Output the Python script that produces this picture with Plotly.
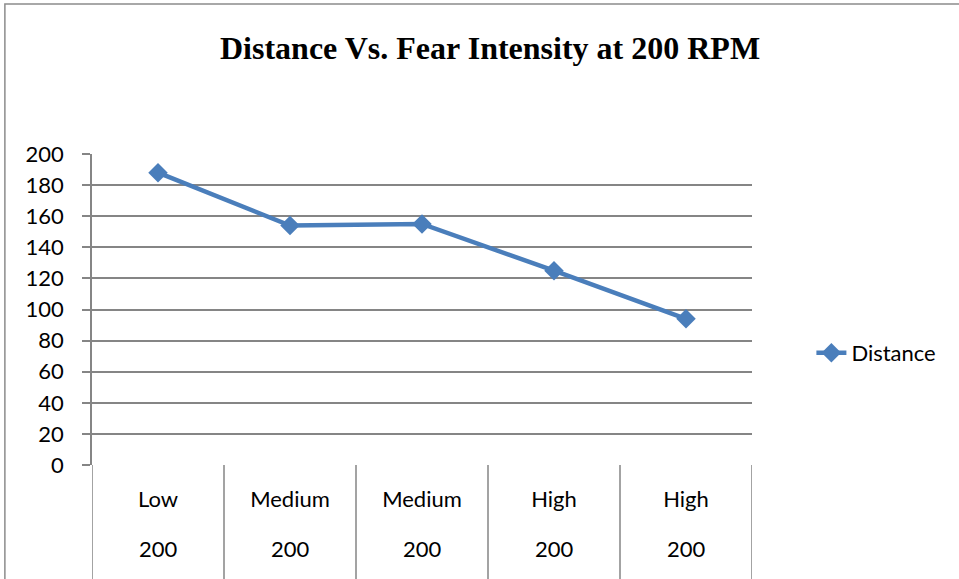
import plotly.graph_objects as go

# ---------------- data ----------------
fear_levels = ["Low", "Medium", "Medium", "High", "High"]
rpm_labels = ["200", "200", "200", "200", "200"]
distance = [188, 154, 155, 125, 94]

# ---------------- theme ----------------
BLUE = "#4A7EBB"
GRID = "#858585"
TEXT = "#000000"
FONT = "Lato, Calibri, sans-serif"

positions = list(range(len(fear_levels)))

fig = go.Figure()

fig.add_trace(
    go.Scatter(
        x=positions,
        y=distance,
        name="Distance",
        mode="lines+markers",
        line=dict(color=BLUE, width=4.5),
        marker=dict(symbol="diamond", size=15, color=BLUE),
    )
)

# second label row (RPM) under each category
for pos, lab in zip(positions, rpm_labels):
    fig.add_annotation(
        x=pos, xref="x",
        y=-0.27, yref="paper",
        text=lab, showarrow=False,
        yanchor="middle",
        font=dict(family=FONT, size=22, color=TEXT),
    )

# category dividers, like Excel's multi-level axis
for b in [p - 0.5 for p in positions] + [positions[-1] + 0.5]:
    fig.add_shape(
        type="line", xref="x", yref="paper",
        x0=b, x1=b, y0=0, y1=-0.4,
        line=dict(color=GRID, width=1.5),
    )

# outer chart border (top / left visible)
fig.add_shape(
    type="rect", xref="paper", yref="paper",
    x0=-0.132, x1=1.6, y0=-0.6, y1=1.482,
    line=dict(color="#8C8C8C", width=1.5),
    fillcolor="rgba(0,0,0,0)",
)

fig.update_layout(
    width=959,
    height=579,
    paper_bgcolor="white",
    plot_bgcolor="white",
    font=dict(family=FONT, size=22, color=TEXT),
    title=dict(
        text="<b>Distance Vs. Fear Intensity at 200 RPM</b>",
        x=0.511, xanchor="center",
        y=0.918, yanchor="middle",
        font=dict(family="Liberation Serif, Times New Roman, serif", size=32, color=TEXT),
    ),
    margin=dict(l=92, r=207, t=154, b=114),
    showlegend=True,
    legend=dict(
        x=1.09, xanchor="left",
        y=0.36, yanchor="middle",
        bgcolor="rgba(0,0,0,0)",
        font=dict(family=FONT, size=22, color=TEXT),
    ),
)

fig.update_xaxes(
    range=[-0.5, len(fear_levels) - 0.5],
    tickvals=positions,
    ticktext=fear_levels,
    ticks="",
    ticklabelstandoff=19,
    showgrid=False,
    zeroline=False,
    showline=False,
    fixedrange=True,
)

fig.update_yaxes(
    range=[0, 200],
    dtick=20,
    showgrid=True,
    gridcolor=GRID,
    gridwidth=1.5,
    zeroline=False,
    showline=True,
    linecolor=GRID,
    linewidth=1.5,
    ticks="outside",
    ticklen=8,
    tickcolor=GRID,
    tickwidth=1.5,
    ticklabelstandoff=14,
)

# drop the browser's default body margin so the chart sits at the page corner
fig.write_html(
    "out.html",
    config={"displayModeBar": False},
    post_script="document.body.style.margin='0';",
)
